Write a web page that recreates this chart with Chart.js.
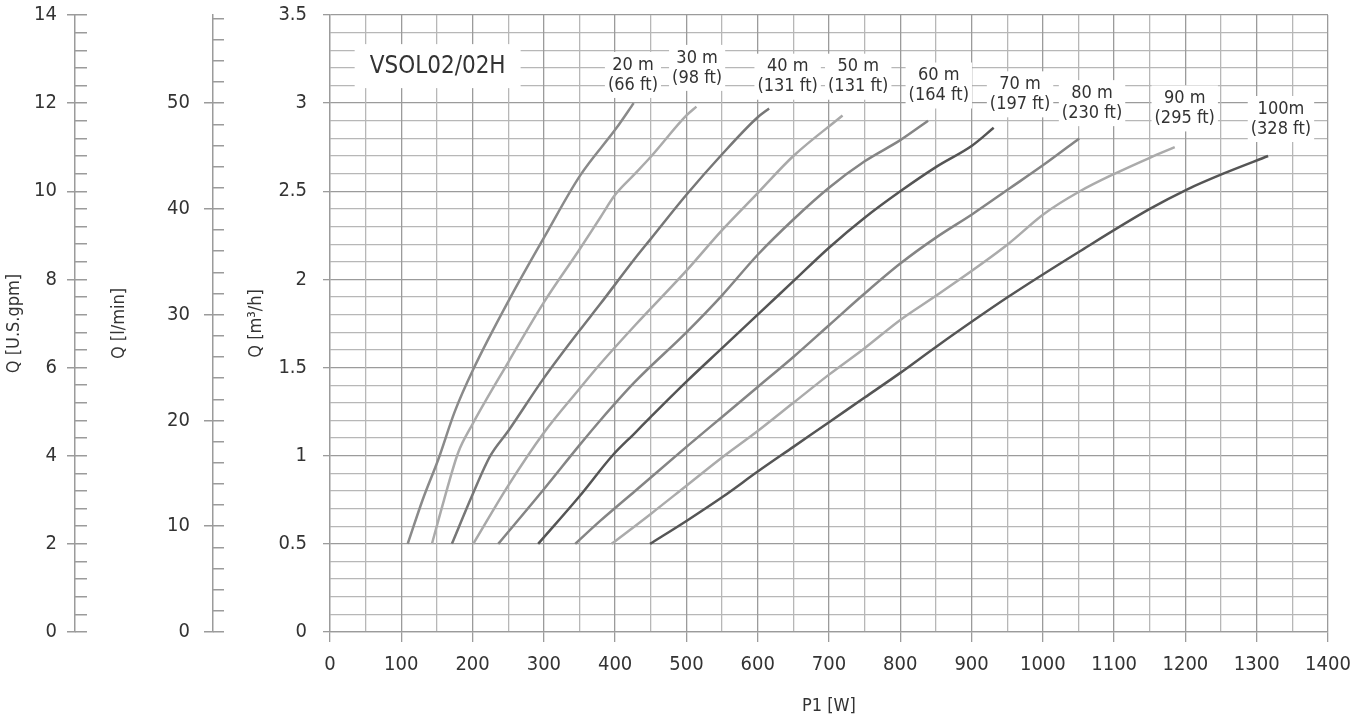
<!DOCTYPE html>
<html>
<head>
<meta charset="utf-8">
<title>VSOL02/02H</title>
<script src="https://cdn.jsdelivr.net/npm/chart.js@4.4.1/dist/chart.umd.min.js"></script>
<style>
  html, body { margin: 0; padding: 0; background: #fff; }
  #wrap { width: 1369px; height: 721px; position: relative; }
</style>
</head>
<body>
<div id="wrap"><canvas id="chart"></canvas></div>
<script>
// head curves: P1 [W] against Q [m3/h]
const p20 = [109, 130, 152, 175, 201, 252, 302, 351, 402, 426];
const q20 = [0.5, 0.75, 0.98, 1.25, 1.49, 1.89, 2.25, 2.59, 2.86, 3.0];
const p30 = [143, 160, 180, 200, 250, 300, 350, 379, 400, 428, 451, 500, 514];
const q30 = [0.5, 0.75, 1.02, 1.18, 1.53, 1.87, 2.17, 2.35, 2.48, 2.60, 2.70, 2.93, 2.98];
const p40 = [171, 200, 225, 250, 300, 350, 379, 428, 450, 500, 550, 600, 616];
const q40 = [0.5, 0.78, 1.0, 1.14, 1.44, 1.71, 1.86, 2.12, 2.23, 2.48, 2.71, 2.92, 2.97];
const p50 = [201, 250, 300, 350, 379, 428, 500, 550, 600, 650, 719];
const q50 = [0.5, 0.83, 1.13, 1.38, 1.52, 1.74, 2.05, 2.28, 2.49, 2.70, 2.93];
const p60 = [236, 300, 350, 379, 428, 500, 550, 600, 650, 700, 750, 800, 839];
const q60 = [0.5, 0.81, 1.06, 1.20, 1.42, 1.70, 1.91, 2.14, 2.34, 2.52, 2.67, 2.79, 2.90];
const p70 = [292, 350, 396, 428, 450, 500, 550, 600, 650, 700, 750, 800, 851, 901, 931];
const q70 = [0.5, 0.77, 1.0, 1.13, 1.22, 1.42, 1.61, 1.80, 1.99, 2.18, 2.35, 2.50, 2.64, 2.76, 2.86];
const p80 = [344, 379, 428, 500, 550, 600, 650, 700, 750, 800, 851, 901, 951, 1001, 1051];
const q80 = [0.5, 0.63, 0.80, 1.05, 1.22, 1.39, 1.56, 1.74, 1.92, 2.09, 2.24, 2.37, 2.51, 2.65, 2.80];
const p90 = [395, 450, 500, 550, 600, 650, 700, 750, 800, 851, 951, 1001, 1052, 1101, 1150, 1185];
const q90 = [0.5, 0.67, 0.83, 0.99, 1.14, 1.30, 1.46, 1.61, 1.77, 1.91, 2.20, 2.37, 2.50, 2.60, 2.69, 2.75];
const p100 = [449, 500, 552, 600, 650, 700, 750, 800, 851, 951, 1052, 1150, 1202, 1253, 1316];
const q100 = [0.5, 0.63, 0.77, 0.91, 1.05, 1.19, 1.33, 1.47, 1.62, 1.90, 2.16, 2.40, 2.51, 2.60, 2.70];

const heads = ['20 m', '30 m', '40 m', '50 m', '60 m', '70 m', '80 m', '90 m', '100m'];
const headsFt = ['(66 ft)', '(98 ft)', '(131 ft)', '(131 ft)', '(164 ft)', '(197 ft)', '(230 ft)', '(295 ft)', '(328 ft)'];
const powers = [p20, p30, p40, p50, p60, p70, p80, p90, p100];
const flows = [q20, q30, q40, q50, q60, q70, q80, q90, q100];

// where the head labels sit, in axis units (W, m3/h)
const labelW = [425, 515, 642, 741, 854, 968, 1069, 1199, 1334];
const labelQ = [3.16, 3.2, 3.15, 3.15, 3.10, 3.05, 3.0, 2.97, 2.91];
const modelName = 'VSOL02/02H';
const modelAt = [151, 3.21];

// secondary axis ticks
const gpmTicks = [0, 2, 4, 6, 8, 10, 12, 14];
const lminTicks = [0, 10, 20, 30, 40, 50];

const FONT = "'Liberation Sans Narrow', 'Arial Narrow', 'DejaVu Sans Condensed', sans-serif";
const TEXT = '#333';
const major = '#9b9b9b';
const minor = '#b7b7b7';
const lineCols = ['#8a8a8a', '#ababab', '#777777', '#a9a9a9', '#858585', '#555555', '#858585', '#ababab', '#555555'];

const minorSteps = (max, step) => {
    const out = [];
    for (let v = 0; v <= max + 1e-9; v += step) out.push({ value: Math.round(v * 100) / 100 });
    return out;
};
const isStep = (v, s) => Math.abs(v / s - Math.round(v / s)) < 1e-6;
// fixed box width; labels may hang into the page padding
const width = (w) => (s) => { s.width = w; s.paddingTop = 0; s.paddingBottom = 0; };

Chart.defaults.font.family = FONT;
Chart.defaults.color = TEXT;

const headLabels = {
    id: 'headLabels',
    afterDatasetsDraw(chart) {
        const { ctx, scales: { x, y } } = chart;
        ctx.save();
        ctx.textAlign = 'center';
        ctx.textBaseline = 'middle';

        // model name box
        ctx.font = '24px ' + FONT;
        let cx = x.getPixelForValue(modelAt[0]);
        let cy = y.getPixelForValue(modelAt[1]);
        let w = ctx.measureText(modelName).width + 30;
        ctx.fillStyle = '#fff';
        ctx.fillRect(cx - w / 2, cy - 22, w, 44);
        ctx.fillStyle = TEXT;
        ctx.fillText(modelName, cx, cy + 1);

        ctx.font = '18px ' + FONT;
        heads.forEach((name, i) => {
            cx = x.getPixelForValue(labelW[i]);
            cy = y.getPixelForValue(labelQ[i]);
            w = Math.max(ctx.measureText(name).width, ctx.measureText(headsFt[i]).width) + 6;
            ctx.fillStyle = '#fff';
            ctx.fillRect(cx - w / 2, cy - 23, w, 46);
            ctx.fillStyle = TEXT;
            ctx.fillText(name, cx, cy - 10);
            ctx.fillText(headsFt[i], cx, cy + 10);
        });
        ctx.restore();
    }
};

new Chart(document.getElementById('chart'), {
    type: 'line',
    data: {
        datasets: heads.map((h, i) => ({
            label: h,
            data: powers[i].map((p, j) => ({ x: p, y: flows[i][j] })),
            borderColor: lineCols[i],
            borderWidth: 2.5,
            pointRadius: 0,
            fill: false,
            cubicInterpolationMode: 'monotone',
            xAxisID: 'x',
            yAxisID: 'y',
        })),
    },
    options: {
        responsive: true,
        maintainAspectRatio: false,
        animation: false,
        layout: { padding: { top: 15, right: 41, bottom: 0, left: 0 } },
        plugins: { legend: { display: false }, tooltip: { enabled: false } },
        scales: {
            gpm: {
                type: 'linear', position: 'left', weight: 5, min: 0, max: 14,
                afterBuildTicks: (s) => { s.ticks = gpmTicks.map(v => ({ value: v })); },
                afterFit: width(75),
                ticks: { padding: 10, font: { size: 20 } },
                grid: { drawOnChartArea: false, tickLength: 8, color: major, lineWidth: 1.5 },
                border: { display: true, color: major, width: 1.5 },
                title: { display: true, text: 'Q [U.S.gpm]', font: { size: 18 }, padding: { top: 4, bottom: 0 } },
            },
            gpmMinor: {
                type: 'linear', position: 'left', weight: 4, min: 0, max: 14,
                afterBuildTicks: (s) => { s.ticks = minorSteps(14, 0.4); },
                afterFit: width(12),
                ticks: { display: false },
                grid: { drawOnChartArea: false, tickLength: 12, color: major, lineWidth: 1.5 },
                border: { display: false },
            },
            lmin: {
                type: 'linear', position: 'left', weight: 3, min: 0, max: 3.5 * 1000 / 60,
                afterBuildTicks: (s) => { s.ticks = lminTicks.map(v => ({ value: v })); },
                afterFit: width(126),
                ticks: { padding: 14, font: { size: 20 } },
                grid: { drawOnChartArea: false, tickLength: 9, color: major, lineWidth: 1.5 },
                border: { display: true, color: major, width: 1.5 },
                title: { display: true, text: 'Q [l/min]', font: { size: 18 }, padding: { top: 22, bottom: 0 } },
            },
            lminMinor: {
                type: 'linear', position: 'left', weight: 2, min: 0, max: 3.5 * 1000 / 60,
                afterBuildTicks: (s) => { s.ticks = minorSteps(58, 2); },
                afterFit: width(11),
                ticks: { display: false },
                grid: { drawOnChartArea: false, tickLength: 11, color: major, lineWidth: 1.5 },
                border: { display: false },
            },
            y: {
                type: 'linear', position: 'left', weight: 0, min: 0, max: 3.5,
                afterFit: width(106),
                ticks: {
                    stepSize: 0.1, autoSkip: false, padding: 16, font: { size: 20 },
                    callback: (v) => isStep(v, 0.5) ? String(Math.round(v * 10) / 10) : '',
                },
                grid: {
                    color: (c) => c.tick && isStep(c.tick.value, 0.5) ? major : minor,
                    tickColor: (c) => c.tick && isStep(c.tick.value, 0.5) ? major : 'rgba(0,0,0,0)',
                    tickLength: 7, lineWidth: 1.3,
                },
                border: { display: true, color: major, width: 1.3 },
                title: { display: true, text: 'Q [m³/h]', font: { size: 18 }, padding: { top: 22, bottom: 0 } },
            },
            x: {
                type: 'linear', position: 'bottom', min: 0, max: 1400,
                afterFit: (s) => { s.height = 89; },
                ticks: {
                    stepSize: 50, autoSkip: false, maxRotation: 0, minRotation: 0, padding: 11, font: { size: 20 },
                    callback: (v) => isStep(v, 100) ? String(v) : '',
                },
                grid: {
                    color: (c) => c.tick && isStep(c.tick.value, 100) ? major : minor,
                    tickColor: (c) => c.tick && isStep(c.tick.value, 100) ? major : 'rgba(0,0,0,0)',
                    tickLength: 10, lineWidth: 1.3,
                },
                border: { display: true, color: major, width: 1.3 },
                title: { display: true, text: 'P1 [W]', font: { size: 18 }, padding: { top: 0, bottom: 4 } },
            },
        },
    },
    plugins: [headLabels],
});
</script>
</body>
</html>
